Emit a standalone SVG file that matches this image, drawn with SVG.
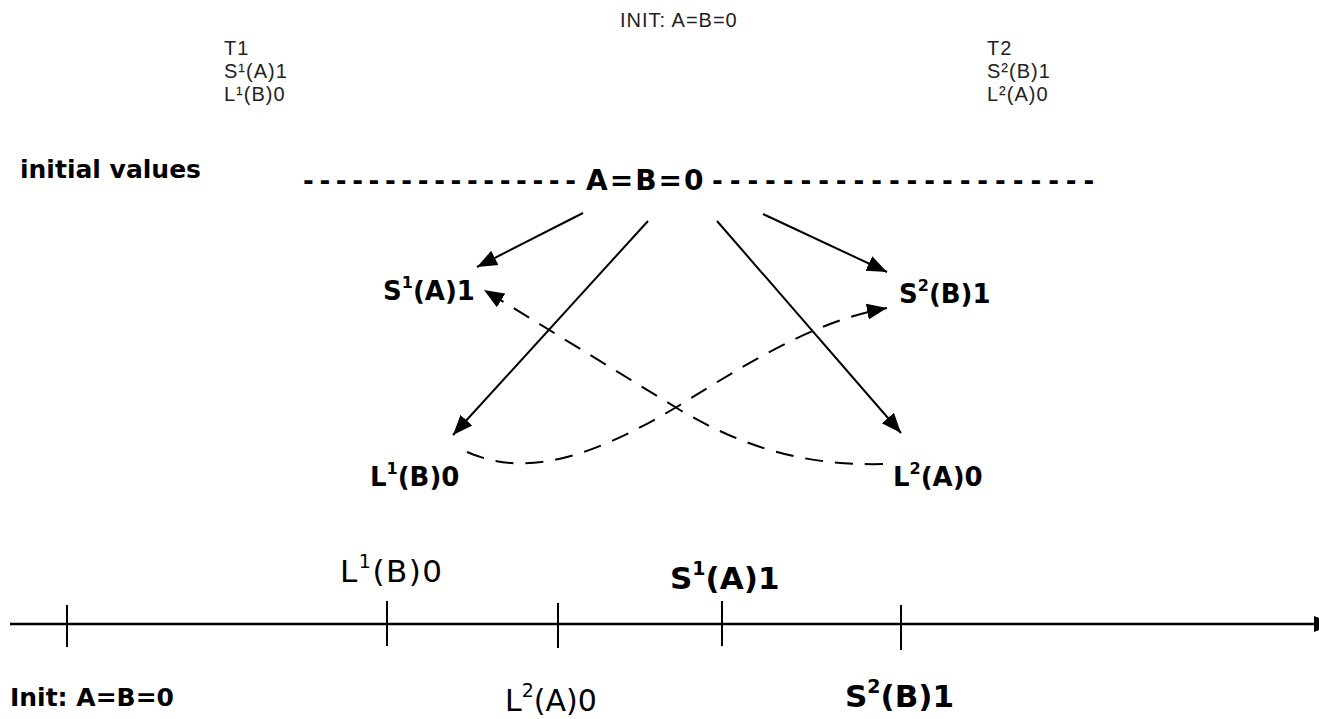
<svg xmlns="http://www.w3.org/2000/svg" width="1319" height="719" viewBox="0 0 1319 719">
<style>
.hdr{font-family:"Liberation Sans",Arial,sans-serif;font-size:20px;letter-spacing:1px;fill:#222}
.b{font-family:"DejaVu Sans",sans-serif;font-weight:bold;fill:#000}
.p{font-family:"DejaVu Sans",sans-serif;fill:#000}
.ln{stroke:#000;stroke-width:2;fill:none}
.ds{stroke:#000;stroke-width:2;fill:none;stroke-dasharray:18,12}
.ax{stroke:#000;stroke-width:2.5;fill:none}
</style>
<defs>
<marker id="ah" markerUnits="userSpaceOnUse" markerWidth="22" markerHeight="18" refX="20" refY="9" orient="auto">
<path d="M0,1 L20,9 L0,17 Z" fill="#000"/>
</marker>
</defs>
<g id="header">
<text class="hdr" x="620" y="27" font-size="24">INIT: A=B=0</text>
<text class="hdr" x="224" y="55">T1</text>
<text class="hdr" x="224" y="78">S¹(A)1</text>
<text class="hdr" x="224" y="101">L¹(B)0</text>
<text class="hdr" x="987" y="55">T2</text>
<text class="hdr" x="987" y="78">S²(B)1</text>
<text class="hdr" x="987" y="101">L²(A)0</text>
</g>
<g id="initial">
<text class="b" x="20" y="178" font-size="25">initial values</text>
<text class="b" y="190" font-size="26"><tspan x="303" letter-spacing="5.6">-----------------</tspan><tspan x="586" font-size="28" letter-spacing="2">A=B=0</tspan><tspan x="712" letter-spacing="6.9">----------------------</tspan></text>
</g>
<g id="n-s1"><text class="b" x="383" y="300" font-size="26">S<tspan font-size="16" dy="-12">1</tspan><tspan dy="12">(A)1</tspan></text></g>
<g id="n-s2"><text class="b" x="899" y="303" font-size="26">S<tspan font-size="16" dy="-12">2</tspan><tspan dy="12">(B)1</tspan></text></g>
<g id="n-l1"><text class="b" x="370" y="486" font-size="26">L<tspan font-size="16" dy="-12">1</tspan><tspan dy="12">(B)0</tspan></text></g>
<g id="n-l2"><text class="b" x="893" y="486" font-size="26">L<tspan font-size="16" dy="-12">2</tspan><tspan dy="12">(A)0</tspan></text></g>
<g id="connectors">
<line class="ln" x1="583" y1="213" x2="477" y2="267" marker-end="url(#ah)"/>
<line class="ln" x1="648" y1="221" x2="453" y2="435" marker-end="url(#ah)"/>
<line class="ln" x1="763" y1="214" x2="887" y2="272" marker-end="url(#ah)"/>
<line class="ln" x1="717" y1="221" x2="901" y2="433" marker-end="url(#ah)"/>
<path class="ds" d="M467,452 C520,475 580,465 680,405 C760,355 820,320 887,308" marker-end="url(#ah)"/>
<path class="ds" d="M883,464 C800,466 740,445 680,410 L484,290" marker-end="url(#ah)"/>
</g>
<g id="timeline">
<line class="ax" x1="10" y1="624" x2="1334" y2="624" marker-end="url(#ah)"/>
<line class="ln" x1="67" y1="605" x2="67" y2="647"/>
<line class="ln" x1="387" y1="601" x2="387" y2="646"/>
<line class="ln" x1="558" y1="603" x2="558" y2="648"/>
<line class="ln" x1="722" y1="601" x2="722" y2="646"/>
<line class="ln" x1="901" y1="605" x2="901" y2="650"/>
</g>
<g id="t-labels">
<text class="p" x="340" y="582" font-size="31" letter-spacing="1.5">L<tspan font-size="19" dy="-14">1</tspan><tspan dy="14">(B)0</tspan></text>
<text class="b" x="670" y="589" font-size="31">S<tspan font-size="19" dy="-14">1</tspan><tspan dy="14">(A)1</tspan></text>
<text class="b" x="10" y="706" font-size="25">Init: A=B=0</text>
<text class="p" x="505" y="711" font-size="30">L<tspan font-size="19" dy="-14">2</tspan><tspan dy="14">(A)0</tspan></text>
<text class="b" x="845" y="707" font-size="31">S<tspan font-size="19" dy="-14">2</tspan><tspan dy="14">(B)1</tspan></text>
</g>
</svg>
